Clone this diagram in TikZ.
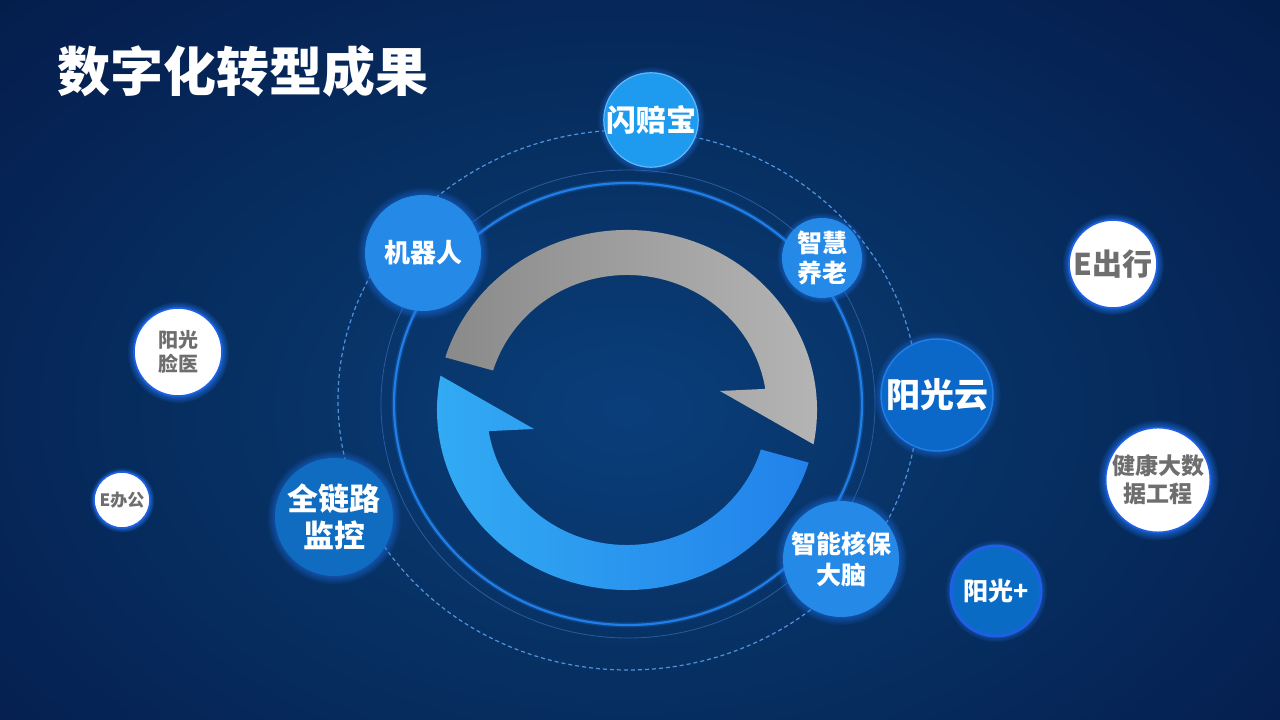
\documentclass[tikz,border=0pt]{standalone}
\usepackage{fontspec}
\setmainfont{Noto Sans CJK SC}
\usetikzlibrary{shadows, fadings}

\definecolor{bgcore}{HTML}{0A3E7A}
\definecolor{bgmid}{HTML}{073062}
\definecolor{bgdark}{HTML}{052152}
\definecolor{bgouter}{HTML}{03163E}
\definecolor{bgdeep}{HTML}{020A24}
\definecolor{ringblue}{HTML}{1F7EE8}
\definecolor{faintblue}{HTML}{2A5C9C}
\definecolor{dashblue}{HTML}{4F93DC}
\definecolor{glowblue}{HTML}{1C74F0}
\definecolor{rimblue}{HTML}{1E5FE6}
\definecolor{txtgray}{HTML}{6E6E6E}
\definecolor{grayL}{HTML}{8A8A8A}
\definecolor{grayR}{HTML}{B6B6B6}
\definecolor{arcL}{HTML}{33ACF4}
\definecolor{arcR}{HTML}{2282EA}
\definecolor{cshan}{HTML}{1E9BEF}
\definecolor{crobot}{HTML}{2489E7}
\definecolor{ccloud}{HTML}{0B68C8}
\definecolor{cmon}{HTML}{0F6CC0}
\definecolor{cplus}{HTML}{0A6BC4}

\pgfdeclareradialshading{bgglow}{\pgfpoint{0bp}{0bp}}{color(0bp)=(bgcore); color(11bp)=(bgmid); color(21bp)=(bgdark); color(32bp)=(bgouter); color(50bp)=(bgdeep)}

\newcommand{\bubsize}[2]{\fontsize{#1}{#2}\selectfont}

\begin{document}
\begin{tikzpicture}[x=1pt, y=1pt,
    bubble/.style={circle, inner sep=0pt, align=center, font=\bfseries},
    bluebub/.style={bubble, fill=#1, text=white,
      circular glow={fill=glowblue, shadow scale=1.14, opacity=0.55}},
    whitebub/.style={bubble, fill=white, draw=rimblue, line width=1.6pt, text=txtgray,
      circular glow={fill=glowblue, shadow scale=1.16, opacity=0.7}}
  ]
    \useasboundingbox (0,0) rectangle (1280,720);

    % Background
    \begin{scope}
      \clip (0,0) rectangle (1280,720);
      \shade[shading=bgglow] (-273,-290) rectangle (1527,910);
    \end{scope}

    % Title
    \node[anchor=base west, inner sep=0pt, text=white, font=\bfseries\bubsize{53}{60}] (title) at (57,628) {数字化转型成果};

    % Rings
    \draw[faintblue, line width=0.8pt] (628,316) ellipse [x radius=247, y radius=234];
    \draw[ringblue, line width=5pt, opacity=0.25] (628,316) ellipse [x radius=234, y radius=221];
    \draw[ringblue, line width=2.2pt] (628,316) ellipse [x radius=234, y radius=221];
    \draw[dashblue, line width=1.2pt, dash pattern=on 4pt off 3pt] (628,320) ellipse [x radius=290, y radius=270];

    % Cycle arrows
    \begin{scope}[shift={(627,310)}]
      \shade[left color=grayL, right color=grayR]
        (163:190 and 180) arc[start angle=163, end angle=-11, x radius=190, y radius=180]
        -- (93,19) -- (9:140 and 135)
        arc[start angle=9, end angle=163, x radius=140, y radius=135] -- cycle;
      \shade[left color=arcL, right color=arcR]
        (-17:190 and 180) arc[start angle=-17, end angle=-191, x radius=190, y radius=180]
        -- (-93,-19) -- (-171:140 and 135)
        arc[start angle=-171, end angle=-17, x radius=140, y radius=135] -- cycle;
    \end{scope}

    % Blue bubbles
    \node[bluebub=cshan, draw=cshan!70!white, line width=1.2pt, minimum size=88pt, font=\bfseries\bubsize{30}{34}] (shanpei) at (651,600) {闪赔宝};
    \node[bluebub=crobot, minimum size=116pt, font=\bfseries\bubsize{26}{30}] (robot) at (423,467) {机器人};
    \node[bluebub=crobot, minimum size=80pt, font=\bfseries\bubsize{25}{30}] (elder) at (822,462) {智慧\\养老};
    \node[bluebub=ccloud, draw=ringblue, line width=1.5pt, minimum size=112pt, font=\bfseries\bubsize{34}{38}] (cloud) at (937,325) {阳光云};
    \node[bluebub=crobot, minimum size=116pt, font=\bfseries\bubsize{25}{31}] (underwrite) at (841,161) {智能核保\\大脑};
    \node[bluebub=cmon, minimum size=118pt, font=\bfseries\bubsize{31}{37}] (monitor) at (334,203) {全链路\\监控};
    \node[bluebub=cplus, draw=rimblue, line width=3pt, minimum size=90pt, font=\bfseries\bubsize{25}{30}] (plus) at (996,129) {阳光+};

    % White bubbles
    \node[whitebub, minimum size=88pt, font=\bfseries\bubsize{30}{34}] (etravel) at (1113,456) {E出行};
    \node[whitebub, minimum size=101pt, font=\bfseries\bubsize{23}{28}] (health) at (1158,240) {健康大数\\据工程};
    \node[whitebub, minimum size=88pt, font=\bfseries\bubsize{20}{24}] (face) at (178,368) {阳光\\脸医};
    \node[whitebub, minimum size=56pt, font=\bfseries\bubsize{17}{20}] (eoffice) at (122,220) {E办公};

  \end{tikzpicture}
\end{document}
